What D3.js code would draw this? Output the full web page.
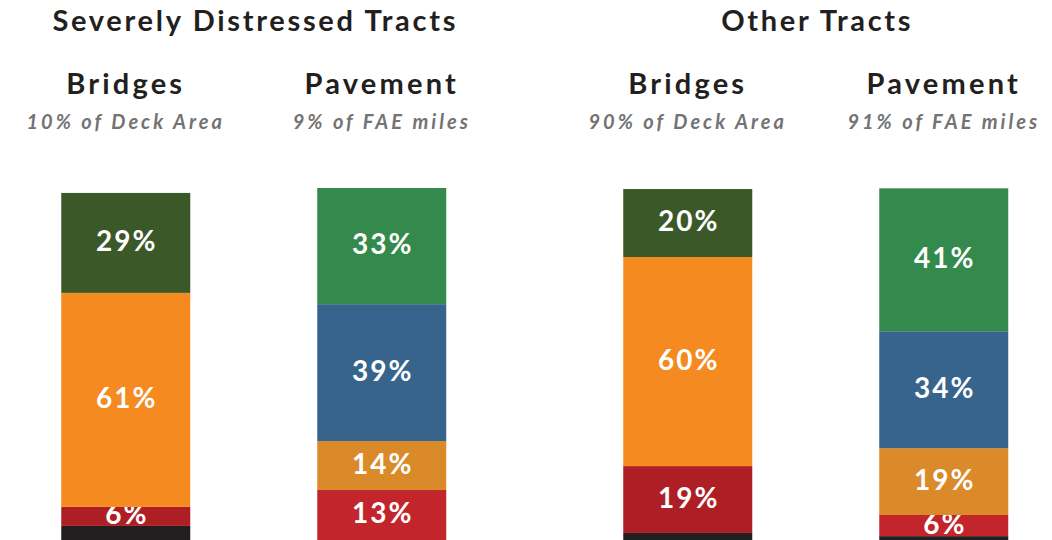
<!DOCTYPE html>
<html>
<head>
<meta charset="utf-8">
<script src="https://cdn.jsdelivr.net/npm/d3@7"></script>
<style>
  body { margin: 0; background: #fff; }
  svg { display: block; font-family: Lato, "Open Sans", sans-serif; }
  .group_title { font-weight: 700; font-size: 29px; fill: #231f20; letter-spacing: 2.7px; }
  .bar_title { font-weight: 700; font-size: 29px; fill: #231f20; letter-spacing: 3.2px; }
  .bar_share { font-weight: 700; font-style: italic; font-size: 20px; fill: #737373; letter-spacing: 3px; }
  .seg_label { font-weight: 700; font-size: 28px; fill: #fff; letter-spacing: 2px; }
</style>
</head>
<body>
<div id="chart"></div>
<script>
// groups and the two measures inside each group
var groups = ["Severely Distressed Tracts", "Other Tracts"];
var measures = ["Bridges", "Pavement"];

// share of the network in each group (subtitle under every bar)
var shares = ["10% of Deck Area", "9% of FAE miles", "90% of Deck Area", "91% of FAE miles"];

// condition classes, top of the bar first
var bridgeConditions = ["Good", "Fair", "Poor", "Not rated"];
var pavementConditions = ["Good", "Acceptable", "Fair", "Poor", "Not rated"];
var bridgeColors = ["#3b5829", "#f48a20", "#ad1f24", "#231f20"];
var pavementColors = ["#348a4c", "#37648c", "#da8a28", "#c2262c", "#231f20"];

// values (percent of bar)
var sdBridgeValues = [28.4, 60.8, 5.4, 4.0];
var sdPavementValues = [33.0, 38.9, 13.9, 14.2, 0];
var otherBridgeValues = [19.3, 59.4, 19.0, 2.0];
var otherPavementValues = [40.6, 33.2, 19.0, 6.0, 1.1];

// printed labels
var sdBridgeLabels = ["29%", "61%", "6%", ""];
var sdPavementLabels = ["33%", "39%", "14%", "13%", ""];
var otherBridgeLabels = ["20%", "60%", "19%", ""];
var otherPavementLabels = ["41%", "34%", "19%", "6%", ""];

var bars = [
  {group: groups[0], measure: measures[0], share: shares[0], keys: bridgeConditions, colors: bridgeColors, values: sdBridgeValues, labels: sdBridgeLabels},
  {group: groups[0], measure: measures[1], share: shares[1], keys: pavementConditions, colors: pavementColors, values: sdPavementValues, labels: sdPavementLabels},
  {group: groups[1], measure: measures[0], share: shares[2], keys: bridgeConditions, colors: bridgeColors, values: otherBridgeValues, labels: otherBridgeLabels},
  {group: groups[1], measure: measures[1], share: shares[3], keys: pavementConditions, colors: pavementColors, values: otherPavementValues, labels: otherPavementLabels}
];

var width = 1052;
var height = 540;
var barWidth = 129;

var svg = d3.select("#chart")
            .append("svg")
            .attr("width", width)
            .attr("height", height);

var groupScale = d3.scalePoint()
                   .domain(groups)
                   .range([253.75, 815.75]);
var measureScale = d3.scalePoint()
                     .domain(measures)
                     .range([-128, 128]);
var y = d3.scaleLinear()
          .domain([0, 100])
          .range([540, 188]);

function barCenter(d) { return groupScale(d.group) + measureScale(d.measure); }

// group titles
svg.selectAll("text.group_title")
   .data(groups)
   .enter()
   .append("text")
   .attr("class", "group_title")
   .attr("x", function(d) { return groupScale(d) + 1.5; })
   .attr("y", 31)
   .attr("text-anchor", "middle")
   .text(function(d) { return d; });

var barGroup = svg.selectAll("g.bar")
                  .data(bars)
                  .enter()
                  .append("g")
                  .attr("class", "bar")
                  .attr("transform", function(d) { return "translate(" + barCenter(d) + ",0)"; });

barGroup.append("text")
        .attr("class", "bar_title")
        .attr("x", 0)
        .attr("y", 94)
        .attr("text-anchor", "middle")
        .text(function(d) { return d.measure; });

barGroup.append("text")
        .attr("class", "bar_share")
        .attr("x", 0)
        .attr("y", 129)
        .attr("text-anchor", "middle")
        .text(function(d) { return d.share; });

// stack from the bottom up: last condition sits on the baseline
var segments = barGroup.selectAll("g.segment")
  .data(function(d) {
    var n = d.values.length;
    var out = [];
    var base = 0;
    for (var i = n - 1; i >= 0; i--) {
      out.push({key: d.keys[i], color: d.colors[i], label: d.labels[i], y0: base, y1: base + d.values[i]});
      base += d.values[i];
    }
    return out;
  })
  .enter()
  .append("g")
  .attr("class", "segment");

segments.append("rect")
        .attr("x", -barWidth / 2)
        .attr("width", barWidth)
        .attr("y", function(d) { return y(d.y1); })
        .attr("height", function(d) { return y(d.y0) - y(d.y1); })
        .attr("fill", function(d) { return d.color; });

segments.append("text")
        .attr("class", "seg_label")
        .attr("text-anchor", "middle")
        .attr("dominant-baseline", "central")
        .attr("x", 1)
        .attr("y", function(d) { return y((d.y0 + d.y1) / 2) - 3; })
        .text(function(d) { return d.label; });
</script>
</body>
</html>
